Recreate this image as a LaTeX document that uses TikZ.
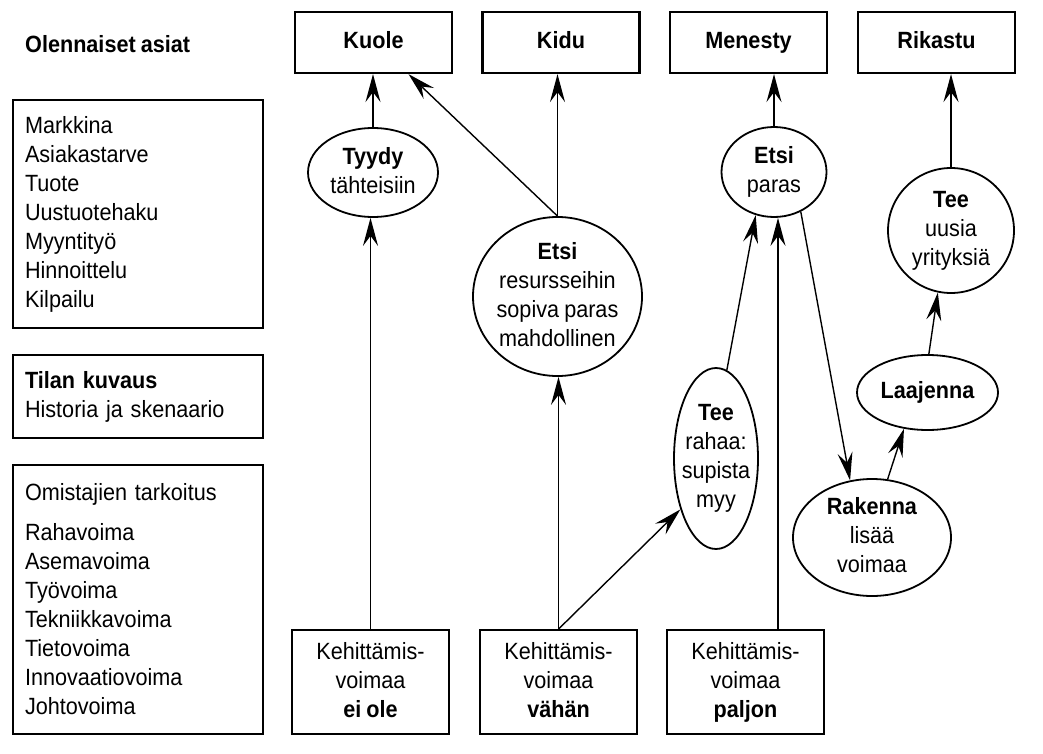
\documentclass[tikz,border=0pt]{standalone}
\usepackage{fontspec}
\setmainfont{Liberation Sans}[FakeStretch=0.92,WordSpace=0.85]
\usetikzlibrary{arrows.meta,shapes.geometric}
\begin{document}
\begin{tikzpicture}[x=1pt,y=-1pt,
  every node/.style={font=\fontsize{23.5}{29}\selectfont, inner sep=0pt},
  tbox/.style={draw, line width=2.2pt, minimum width=157pt, minimum height=61pt, text height=17pt, text depth=5pt, font=\fontsize{23.5}{29}\selectfont\bfseries},
  bbox/.style={draw, line width=1.8pt, minimum width=157pt, minimum height=104pt, align=center},
  lbox/.style={draw, line width=1.8pt, text width=226pt, inner xsep=12pt, inner ysep=0pt, align=left},
  ell/.style={draw, ellipse, line width=1.8pt},
  lbl/.style={align=center},
  arr/.style={-{Stealth[length=28pt,width=15pt,inset=10pt]}, line width=1.4pt},
]
\useasboundingbox (0,0) rectangle (1043,754);

% left column
\node[anchor=base west, font=\fontsize{23.5}{29}\selectfont\bfseries] (title) at (25,53) {Olennaiset asiat};
\node[lbox, minimum height=228pt] (lb1) at (138,214) {Markkina\\Asiakastarve\\Tuote\\Uustuotehaku\\Myyntityö\\Hinnoittelu\\Kilpailu};
\node[lbox, minimum height=83pt] (lb2) at (138,396.5) {\textbf{Tilan kuvaus}\\Historia ja skenaario};
\node[lbox, minimum height=269pt] (lb3) at (138,599.5) {Omistajien tarkoitus\\[11pt]Rahavoima\\Asemavoima\\Työvoima\\Tekniikkavoima\\Tietovoima\\Innovaatiovoima\\Johtovoima};

% top boxes
\node[tbox] (kuole) at (373.5,42.5) {Kuole};
\node[tbox] (kidu) at (561,42.5) {Kidu};
\node[tbox] (menesty) at (748.5,42.5) {Menesty};
\node[tbox] (rikastu) at (936.5,42.5) {Rikastu};

% bottom boxes
\node[bbox] (eiole) at (370.5,682) {Kehittämis-\\voimaa\\\textbf{ei ole}\vphantom{pj}};
\node[bbox] (vahan) at (558.5,682) {Kehittämis-\\voimaa\\\textbf{vähän}\vphantom{pj}};
\node[bbox] (paljon) at (745.5,682) {Kehittämis-\\voimaa\\\textbf{paljon}\vphantom{pj}};

% ellipses
\node[ell, minimum width=130pt, minimum height=89pt] (tyydy) at (373,172.5) {};
\node[lbl] (tyydyT) at (tyydy.center) {\textbf{Tyydy}\\tähteisiin\vphantom{p}};

\node[ell, minimum width=169pt, minimum height=159pt] (etsiB) at (557.5,296.5) {};
\node[lbl] (etsiBT) at (etsiB.center) {\textbf{Etsi}\\resursseihin\\sopiva paras\\mahdollinen\vphantom{p}};

\node[ell, minimum width=105pt, minimum height=90pt] (etsiP) at (774,172) {};
\node[lbl] (etsiPT) at (etsiP.center) {\textbf{Etsi}\\paras};

\node[ell, minimum width=126pt, minimum height=125pt] (teeU) at (951,230.5) {};
\node[lbl] (teeUT) at (teeU.center) {\textbf{Tee}\\uusia\\yrityksiä};

\node[ell, minimum width=84pt, minimum height=181pt] (teeS) at (716,458.5) {};
\node[lbl] (teeST) at (teeS.center) {\textbf{Tee}\\rahaa:\\supista\\myy};

\node[ell, minimum width=141pt, minimum height=75pt] (laaj) at (927.5,392.5) {};
\node[lbl] (laajT) at (laaj.center) {\textbf{Laajenna}};

\node[ell, minimum width=158pt, minimum height=117pt] (rak) at (872,537.5) {};
\node[lbl] (rakT) at (rak.center) {\textbf{Rakenna}\\lisää\\voimaa\vphantom{p}};

% connectors
\draw[arr] (tyydy.north) -- (tyydy.north |- kuole.south);
\draw[arr] (etsiB.north) -- ([xshift=35pt]kuole.south);
\draw[arr] (etsiB.north) -- (etsiB.north |- kidu.south);
\draw[arr] (etsiP.north) -- (etsiP.north |- menesty.south);
\draw[arr] (teeU.north) -- (teeU.north |- rikastu.south);
\draw[arr] (eiole.north) -- (eiole.north |- tyydy.south);
\draw[arr] (vahan.north) -- (vahan.north |- etsiB.south);
\draw[arr] (vahan.north) -- (teeS.235);
\draw[arr] (teeS.83) -- (etsiP.247);
\draw[arr] ([xshift=32.5pt]paljon.north) -- ([xshift=32.5pt]paljon.north |- etsiP.south);
\draw[arr] (etsiP.304) -- (rak.111);
\draw[arr] (rak.75) -- (laaj.237);
\draw[arr] (laaj.88) -- (teeU.258);
\end{tikzpicture}
\end{document}
